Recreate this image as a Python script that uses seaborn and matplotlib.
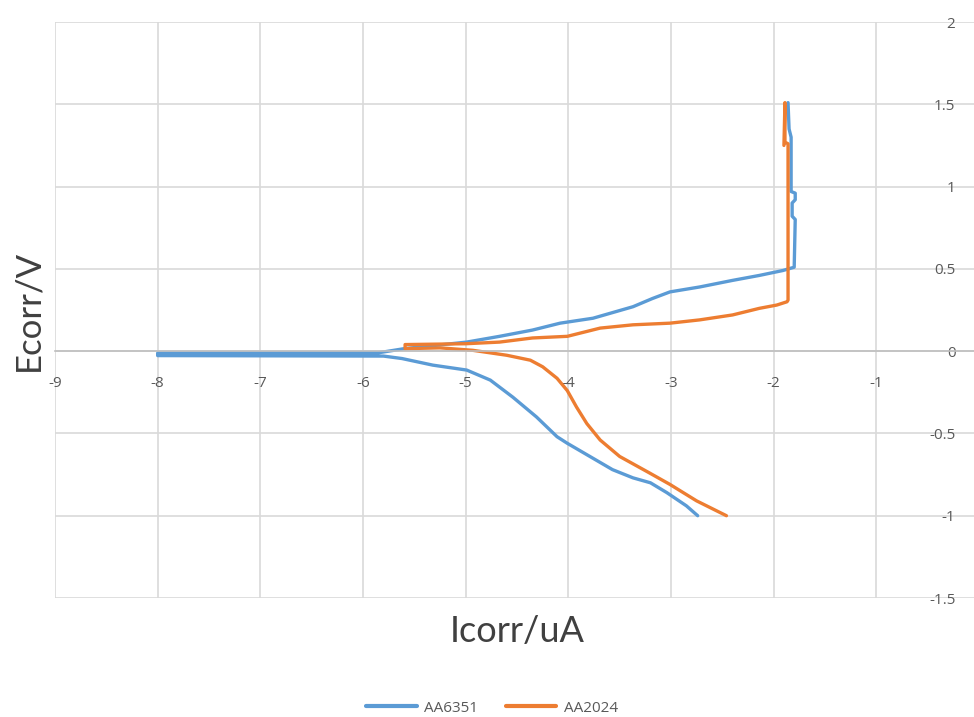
import numpy as np
import pandas as pd
import seaborn as sns
import matplotlib.pyplot as plt

# courbes de polarisation (log Icorr vs Ecorr)
aa6351_i = [-2.74, -2.85, -3.04, -3.20, -3.37, -3.57, -3.79, -4.01, -4.11, -4.31,
            -4.54, -4.76, -4.99, -5.32, -5.62, -5.80, -8.0, -8.0, -5.85, -5.60,
            -4.99, -4.67, -4.35, -4.08, -3.76, -3.37, -3.18, -3.01, -2.72, -2.40,
            -2.14, -1.91, -1.80, -1.79, -1.82, -1.82, -1.79, -1.79, -1.83, -1.83,
            -1.85, -1.86]
aa6351_e = [-1.00, -0.94, -0.86, -0.80, -0.77, -0.72, -0.64, -0.56, -0.52, -0.40,
            -0.28, -0.176, -0.115, -0.085, -0.045, -0.03, -0.027, -0.012, -0.01, 0.015,
            0.055, 0.09, 0.128, 0.17, 0.20, 0.27, 0.32, 0.36, 0.39, 0.43,
            0.46, 0.49, 0.51, 0.80, 0.82, 0.90, 0.92, 0.96, 0.97, 1.30,
            1.35, 1.51]

aa2024_i = [-2.46, -2.75, -3.01, -3.21, -3.50, -3.69, -3.82, -3.92, -4.01, -4.11,
            -4.25, -4.37, -4.60, -4.93, -5.25, -5.59, -5.59, -5.00, -4.67, -4.35,
            -4.01, -3.69, -3.37, -3.01, -2.72, -2.40, -2.14, -1.97, -1.87, -1.86,
            -1.86, -1.89, -1.89, -1.90]
aa2024_e = [-1.00, -0.91, -0.81, -0.74, -0.64, -0.54, -0.44, -0.34, -0.24, -0.165,
            -0.095, -0.055, -0.025, 0.005, 0.02, 0.015, 0.04, 0.045, 0.055, 0.08,
            0.09, 0.14, 0.16, 0.17, 0.19, 0.22, 0.26, 0.28, 0.30, 0.31,
            1.26, 1.27, 1.51, 1.25]

series_names = ["AA6351", "AA2024"]
colors = ["#5B9BD5", "#ED7D31"]

df = pd.concat([
    pd.DataFrame({"Icorr": aa6351_i, "Ecorr": aa6351_e, "alliage": series_names[0]}),
    pd.DataFrame({"Icorr": aa2024_i, "Ecorr": aa2024_e, "alliage": series_names[1]}),
])

sns.set_theme(style="white")
plt.rcParams["font.family"] = ["Open Sans", "DejaVu Sans"]

fig = plt.figure(figsize=(9.74, 7.17), dpi=100)
ax = fig.add_axes([55 / 974, 1 - 598 / 717, 924 / 974, 576 / 717])

sns.lineplot(data=df, x="Icorr", y="Ecorr", hue="alliage", palette=colors,
             sort=False, estimator=None, linewidth=2.4, ax=ax, legend=False)

ax.set_xlim(-9, 0)
ax.set_ylim(-1.5, 2)
ax.set_xticks(np.arange(-9, 1, 1))
ax.set_yticks(np.arange(-1.5, 2.01, 0.5))
ax.set_xticklabels([str(v) for v in range(-9, 1)])
ax.set_yticklabels(["-1.5", "-1", "-0.5", "0", "0.5", "1", "1.5", "2"])

ax.grid(True, color="#D9D9D9", linewidth=1.2)
ax.set_axisbelow(True)
for s in ["top", "right"]:
    ax.spines[s].set_visible(False)
ax.spines["bottom"].set_position(("data", 0))
ax.spines["left"].set_position(("data", 0))
ax.spines["bottom"].set_color("#BFBFBF")
ax.spines["left"].set_color("#BFBFBF")
ax.spines["bottom"].set_linewidth(1.2)

ax.tick_params(axis="both", length=0, labelsize=11, labelcolor="#595959")
ax.tick_params(axis="x", pad=18)
ax.tick_params(axis="y", pad=17)

ax.set_xlabel("")
ax.set_ylabel("")
fig.text(517 / 974, 1 - 631 / 717, "Icorr/uA", fontsize=26, color="#404040",
         ha="center", va="center", family=["Lato", "DejaVu Sans"])
fig.text(28 / 974, 1 - 310 / 717, "Ecorr/V", fontsize=25, color="#404040",
         ha="center", va="center", rotation=90, family=["Lato", "DejaVu Sans"])

handles = [plt.Line2D([], [], color=c, linewidth=3) for c in colors]
fig.legend(handles, series_names, loc="center", bbox_to_anchor=(492 / 974, 1 - 708 / 717),
           ncol=2, frameon=False, fontsize=11, handlelength=3.3, columnspacing=1.8,
           handletextpad=0.5, labelcolor="#595959")

fig.savefig("out.png", dpi=100)
